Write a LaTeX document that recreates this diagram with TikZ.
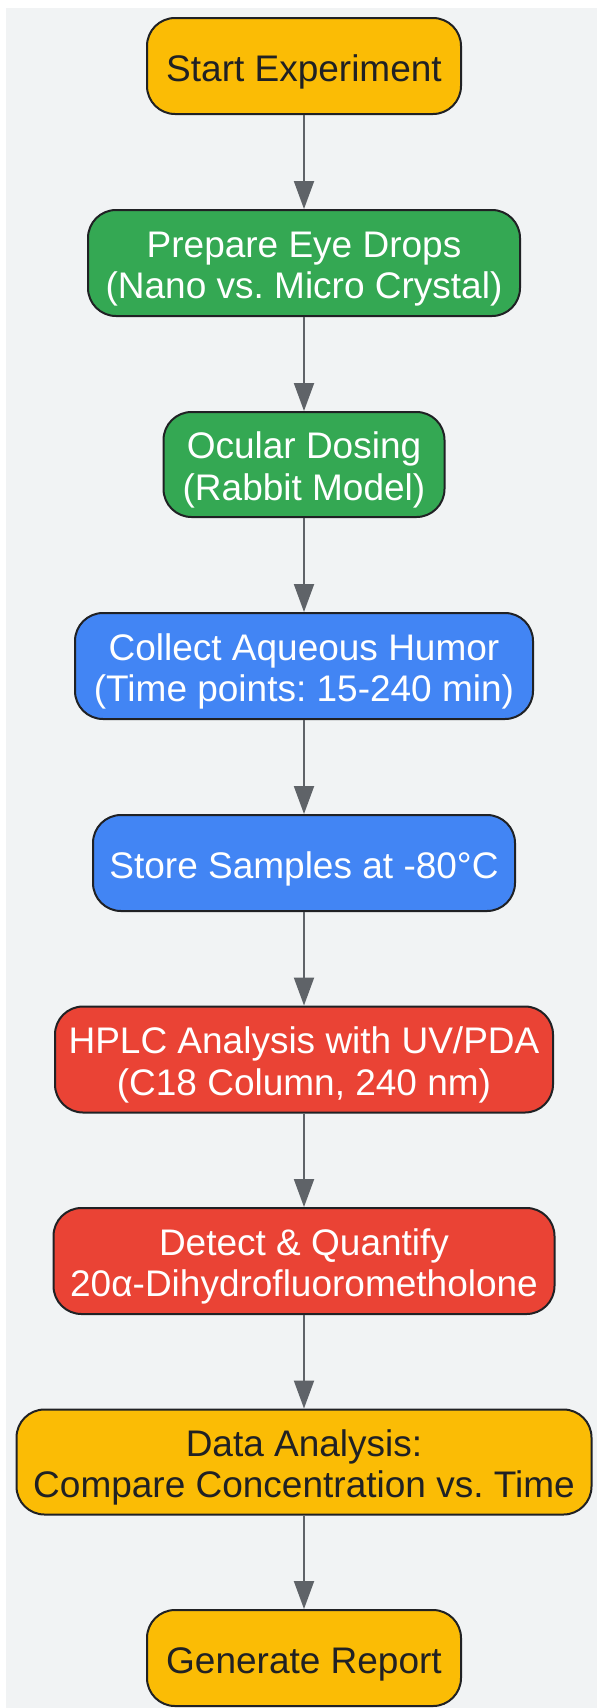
\documentclass[tikz,border=0pt]{standalone}
\usepackage{fontspec}
\setmainfont{Liberation Sans}
\usetikzlibrary{arrows.meta}
\definecolor{bgc}{HTML}{F1F3F4}
\definecolor{gyellow}{HTML}{FBBC05}
\definecolor{ggreen}{HTML}{34A853}
\definecolor{gblue}{HTML}{4285F4}
\definecolor{gred}{HTML}{EA4335}
\definecolor{edgec}{HTML}{5F6368}
\definecolor{ink}{HTML}{202124}
\frenchspacing
\newcommand\onel[1]{\raisebox{0pt}[40pt][8.6pt]{#1}}
\newcommand\twol[2]{\raisebox{0pt}[35pt][47pt]{\vtop{\baselineskip=41.7pt\lineskiplimit=-100pt\halign{\hfil##\hfil\cr#1\cr#2\cr}}}}
\begin{document}
\begin{tikzpicture}[x=1pt,y=-1pt,
  box/.style={draw=ink, line width=2pt, rounded corners=28pt, inner sep=0pt,
    font=\fontsize{37}{41.7}\selectfont},
  yel/.style={box, fill=gyellow, text=ink},
  grn/.style={box, fill=ggreen, text=white},
  blu/.style={box, fill=gblue, text=white},
  rd/.style={box, fill=gred, text=white},
  arr/.style={draw=edgec, line width=2pt, -{Triangle[width=20pt,length=28pt]}}]
\useasboundingbox (0,0) rectangle (597,1708);
\fill[white] (0,0) rectangle (597,1708);
\fill[bgc] (5.5,8) rectangle (597,1708);
\node[yel, minimum width=314pt, minimum height=96pt] (n1) at (304,66) {\onel{Start Experiment}};
\node[grn, minimum width=432pt, minimum height=106pt] (n2) at (304,263) {\twol{Prepare Eye Drops}{(Nano vs. Micro Crystal)}};
\node[grn, minimum width=281pt, minimum height=105pt] (n3) at (304,464.5) {\twol{Ocular Dosing}{(Rabbit Model)}};
\node[blu, minimum width=458pt, minimum height=106pt] (n4) at (304,666) {\twol{Collect Aqueous Humor}{(Time points: 15-240 min)}};
\node[blu, minimum width=422pt, minimum height=96pt] (n5) at (304,863) {\onel{Store Samples at -80°C}};
\node[rd, minimum width=498pt, minimum height=106pt] (n6) at (304,1059.5) {\twol{HPLC Analysis with UV/PDA}{(C18 Column, 240 nm)}};
\node[rd, minimum width=501pt, minimum height=106pt] (n7) at (304,1261) {\twol{Detect \& Quantify}{20α-Dihydrofluorometholone}};
\node[yel, minimum width=575pt, minimum height=105pt] (n8) at (304,1462) {\twol{Data Analysis:}{Compare Concentration vs. Time}};
\node[yel, minimum width=314pt, minimum height=96pt] (n9) at (304,1658) {\onel{Generate Report}};
\draw[arr] (n1.south) -- (n2.north);
\draw[arr] (n2.south) -- (n3.north);
\draw[arr] (n3.south) -- (n4.north);
\draw[arr] (n4.south) -- (n5.north);
\draw[arr] (n5.south) -- (n6.north);
\draw[arr] (n6.south) -- (n7.north);
\draw[arr] (n7.south) -- (n8.north);
\draw[arr] (n8.south) -- (n9.north);
\end{tikzpicture}
\end{document}
